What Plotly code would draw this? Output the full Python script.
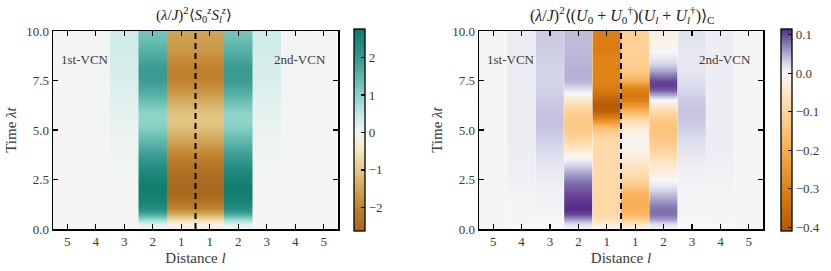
import numpy as np
import plotly.graph_objects as go

# ---------------- data ----------------
TIME = list(np.arange(0, 10.0001, 0.25))
DIST_LABELS = ["5", "4", "3", "2", "1", "1", "2", "3", "4", "5"]

# left panel: (lambda/J)^2 <S0z Slz>, distance l (mirror symmetric)
SZ_L1 = [0.0, -0.15, -0.7, -1.4, -1.9, -2.2, -2.4, -2.5, -2.55, -2.55, -2.5,
         -2.45, -2.35, -2.25, -2.1, -1.95, -1.8, -1.65, -1.5, -1.35, -1.2,
         -1.1, -1.05, -1.05, -1.15, -1.3, -1.45, -1.6, -1.75, -1.85, -1.95,
         -2.0, -2.0, -1.95, -1.9, -1.8, -1.7, -1.65, -1.6, -1.55, -1.5]
SZ_L2 = [0.0, 0.2, 0.9, 1.7, 2.2, 2.45, 2.55, 2.6, 2.65, 2.6, 2.55,
         2.45, 2.35, 2.2, 2.05, 1.9, 1.75, 1.6, 1.45, 1.3, 1.15,
         1.0, 0.95, 0.95, 1.05, 1.2, 1.4, 1.55, 1.7, 1.8, 1.9,
         1.95, 1.95, 1.9, 1.8, 1.7, 1.6, 1.5, 1.4, 1.3, 1.25]
SZ_L3 = [0.0, 0.0, -0.02, -0.03, -0.03, -0.03, -0.03, -0.02, -0.01, 0.0, 0.01,
         0.02, 0.03, 0.04, 0.05, 0.06, 0.07, 0.08, 0.09, 0.1, 0.11,
         0.12, 0.13, 0.14, 0.15, 0.17, 0.19, 0.21, 0.23, 0.25, 0.27,
         0.29, 0.3, 0.31, 0.32, 0.33, 0.34, 0.35, 0.35, 0.36, 0.36]
SZ_L4 = [0.0, 0.0, 0.0, 0.0, 0.0, 0.0, 0.0, 0.0, 0.01, 0.01, 0.01,
         0.01, 0.01, 0.01, 0.01, 0.01, 0.01, 0.01, 0.01, 0.01, 0.02,
         0.02, 0.02, 0.02, 0.02, 0.02, 0.02, 0.02, 0.02, 0.02, 0.03,
         0.03, 0.03, 0.03, 0.03, 0.03, 0.03, 0.03, 0.03, 0.03, 0.03]
SZ_L5 = [0.0] * 41

# right panel: (lambda/J)^2 <(U0+U0^+)(Ul+Ul^+)>_C, columns left to right
U_L5 = [0.002] * 41
U_L4 = [0.0, 0.0, 0.002, 0.002, 0.002, 0.002, 0.002, 0.003, 0.004, 0.005, 0.006,
        0.006, 0.007, 0.007, 0.008, 0.008, 0.009, 0.009, 0.01, 0.01, 0.01,
        0.01, 0.01, 0.01, 0.01, 0.01, 0.01, 0.01, 0.01, 0.01, 0.01,
        0.01, 0.01, 0.01, 0.01, 0.01, 0.01, 0.01, 0.01, 0.01, 0.01]
U_L3 = [0.0, 0.0, 0.0, 0.002, 0.003, 0.004, 0.005, 0.006, 0.007, 0.008, 0.009,
        0.011, 0.013, 0.015, 0.018, 0.021, 0.024, 0.027, 0.03, 0.033, 0.035,
        0.037, 0.038, 0.038, 0.037, 0.035, 0.033, 0.031, 0.03, 0.029, 0.028,
        0.028, 0.028, 0.029, 0.03, 0.031, 0.032, 0.033, 0.033, 0.033, 0.033]
U_L2 = [0.0, 0.02, 0.06, 0.1, 0.112, 0.11, 0.105, 0.1, 0.092, 0.085, 0.075,
        0.06, 0.045, 0.028, 0.01, -0.01, -0.04, -0.07, -0.095, -0.11, -0.125,
        -0.13, -0.13, -0.12, -0.105, -0.08, -0.05, -0.015, 0.015, 0.035, 0.045,
        0.048, 0.048, 0.046, 0.045, 0.044, 0.043, 0.042, 0.042, 0.042, 0.042]
U_L1 = [0.0, -0.03, -0.07, -0.085, -0.09, -0.09, -0.09, -0.09, -0.09, -0.09, -0.085,
        -0.085, -0.085, -0.085, -0.085, -0.085, -0.085, -0.085, -0.09, -0.1, -0.13,
        -0.19, -0.27, -0.34, -0.39, -0.4, -0.38, -0.35, -0.32, -0.31, -0.3,
        -0.3, -0.3, -0.3, -0.3, -0.3, -0.31, -0.31, -0.31, -0.31, -0.31]
U_R1 = [0.0, -0.05, -0.12, -0.17, -0.19, -0.19, -0.19, -0.18, -0.15, -0.12, -0.1,
        -0.085, -0.07, -0.055, -0.04, -0.025, -0.015, -0.01, -0.01, -0.012, -0.03,
        -0.05, -0.08, -0.13, -0.19, -0.25, -0.31, -0.33, -0.31, -0.26, -0.2,
        -0.16, -0.13, -0.12, -0.115, -0.11, -0.11, -0.11, -0.11, -0.11, -0.11]
U_R2 = [0.0, 0.02, 0.06, 0.08, 0.08, 0.07, 0.055, 0.04, 0.025, 0.01, 0.0,
        -0.015, -0.03, -0.045, -0.06, -0.08, -0.1, -0.115, -0.125, -0.135, -0.14,
        -0.14, -0.13, -0.11, -0.08, -0.04, 0.0, 0.05, 0.09, 0.105, 0.1,
        0.08, 0.055, 0.035, 0.02, 0.01, 0.0, -0.01, -0.015, -0.02, -0.02]
U_R3 = [0.0, 0.0, 0.0, 0.001, 0.002, 0.002, 0.003, 0.003, 0.003, 0.004, 0.005,
        0.006, 0.007, 0.009, 0.011, 0.013, 0.016, 0.019, 0.022, 0.026, 0.029,
        0.032, 0.035, 0.036, 0.037, 0.035, 0.033, 0.03, 0.026, 0.023, 0.02,
        0.017, 0.015, 0.014, 0.014, 0.014, 0.014, 0.015, 0.016, 0.017, 0.018]
U_R4 = [0.0, 0.0, 0.002, 0.002, 0.003, 0.003, 0.003, 0.003, 0.003, 0.004, 0.004,
        0.005, 0.006, 0.006, 0.007, 0.007, 0.008, 0.008, 0.008, 0.008, 0.008,
        0.008, 0.008, 0.008, 0.008, 0.008, 0.008, 0.008, 0.008, 0.008, 0.008,
        0.008, 0.008, 0.008, 0.008, 0.008, 0.008, 0.008, 0.008, 0.008, 0.008]
U_R5 = [0.002] * 41

LEFT_COLUMNS = [SZ_L5, SZ_L4, SZ_L3, SZ_L2, SZ_L1, SZ_L1, SZ_L2, SZ_L3, SZ_L4, SZ_L5]
RIGHT_COLUMNS = [U_L5, U_L4, U_L3, U_L2, U_L1, U_R1, U_R2, U_R3, U_R4, U_R5]

LEFT_RANGE = (-2.63, 2.76)
RIGHT_RANGE = (-0.41, 0.115)
LEFT_STOPS = [(-2.63, "#a5661e"), (-2.0, "#bf812d"), (-1.1, "#dfc27d"), (-0.45, "#f6e8c3"),
              (0.0, "#f5f5f5"), (0.45, "#c7eae5"), (1.1, "#80cdc1"), (2.0, "#35978f"),
              (2.76, "#0a7b6a")]
RIGHT_STOPS = [(-0.41, "#b35806"), (-0.3, "#e08214"), (-0.17, "#fdb863"), (-0.07, "#fee0b6"),
               (0.0, "#f7f7f7"), (0.025, "#d8daeb"), (0.05, "#b2abd2"), (0.08, "#8073ac"),
               (0.115, "#542788")]


def scale(stops, rng):
    lo, hi = rng
    return [[(v - lo) / (hi - lo), c] for v, c in stops]


FONT = "Liberation Serif"
TXT = "#3a3a3a"
W, H = 831, 271

fig = go.Figure()
for panel, cols, cax in [(1, LEFT_COLUMNS, "coloraxis"), (2, RIGHT_COLUMNS, "coloraxis2")]:
    for i, col in enumerate(cols):
        fig.add_trace(go.Heatmap(
            x=[i - 0.25, i + 0.25], y=TIME, z=[[v, v] for v in col],
            zsmooth="best", coloraxis=cax, hoverinfo="skip",
            xaxis="x" if panel == 1 else "x2", yaxis="y" if panel == 1 else "y2"))


def px_x(p):
    return p / W


def px_y(p):
    return 1 - p / H


tickfont = dict(family=FONT, size=13, color=TXT)
titlefont = dict(family=FONT, size=15, color=TXT)


def xaxis(dom, anchor):
    return dict(domain=dom, anchor=anchor, range=[-0.5, 9.5], tickvals=list(range(10)),
                ticktext=DIST_LABELS, ticks="inside", ticklen=5, tickwidth=1.2,
                tickcolor="black", showline=True, linecolor="black", linewidth=1.5,
                mirror="ticks", showgrid=False, zeroline=False, tickfont=tickfont,
                automargin=False,
                title=dict(text="Distance <i>l</i>", font=titlefont, standoff=4))


def yaxis(anchor):
    return dict(domain=[px_y(229), px_y(31)], anchor=anchor, range=[0, 10],
                tickvals=[0, 2.5, 5, 7.5, 10], ticktext=["0.0", "2.5", "5.0", "7.5", "10.0"],
                ticks="inside", ticklen=5, tickwidth=1.2, tickcolor="black", showline=True,
                linecolor="black", linewidth=1.5, mirror="ticks", showgrid=False,
                zeroline=False, tickfont=tickfont, automargin=False,
                title=dict(text="Time <i>λt</i>", font=titlefont, standoff=6))


def cbar(xpx, tv, tt):
    return dict(x=px_x(xpx), xanchor="left", xref="paper", y=px_y(130), yanchor="middle",
                thickness=11, thicknessmode="pixels", len=202, lenmode="pixels",
                outlinewidth=1.3, outlinecolor="black", ticks="inside", ticklen=4,
                tickcolor="black", tickwidth=1.2, tickvals=tv, ticktext=tt,
                tickfont=tickfont, xpad=0, ypad=0)


fig.update_layout(
    template="none",
    width=W, height=H, margin=dict(l=0, r=0, t=0, b=0, autoexpand=False),
    paper_bgcolor="white", plot_bgcolor="white", showlegend=False,
    xaxis=xaxis([px_x(53), px_x(338)], "y"),
    yaxis=yaxis("x"),
    xaxis2=xaxis([px_x(479), px_x(763)], "y2"),
    yaxis2=yaxis("x2"),
    coloraxis=dict(colorscale=scale(LEFT_STOPS, LEFT_RANGE), cmin=LEFT_RANGE[0],
                   cmax=LEFT_RANGE[1],
                   colorbar=cbar(354, [-2, -1, 0, 1, 2], ["−2", "−1", "0", "1", "2"])),
    coloraxis2=dict(colorscale=scale(RIGHT_STOPS, RIGHT_RANGE), cmin=RIGHT_RANGE[0],
                    cmax=RIGHT_RANGE[1],
                    colorbar=cbar(781, [0.1, 0.0, -0.1, -0.2, -0.3, -0.4],
                                  ["0.1", "0.0", "−0.1", "−0.2", "−0.3", "−0.4"])),
)

for xr, yr in [("x", "y"), ("x2", "y2")]:
    fig.add_shape(type="line", xref=xr, yref=yr, x0=4.5, x1=4.5, y0=0, y1=10,
                  line=dict(color="black", width=2, dash="6px,4px"))
    fig.add_annotation(xref=xr, yref=yr, x=-0.3, y=8.55, text="1st-VCN", showarrow=False,
                       xanchor="left", yanchor="middle", font=dict(family=FONT, size=13, color=TXT))
    fig.add_annotation(xref=xr, yref=yr, x=9.15, y=8.55, text="2nd-VCN", showarrow=False,
                       xanchor="right", yanchor="middle", font=dict(family=FONT, size=13, color=TXT))

titles = [
    (194, 15, "(<i>λ</i>/<i>J</i>)<sup>2</sup>⟨<i>S</i><sub>0</sub><sup><i>z</i></sup>"
              "<i>S</i><sub><i>l</i></sub><sup><i>z</i></sup>⟩"),
    (622, 16, "(<i>λ</i>/<i>J</i>)<sup>2</sup>⟨(<i>U</i><sub>0</sub> + <i>U</i><sub>0</sub><sup>†</sup>)"
              "(<i>U</i><sub><i>l</i></sub> + <i>U</i><sub><i>l</i></sub><sup>†</sup>)⟩<sub>C</sub>"),
]
for xc, fs, t in titles:
    fig.add_annotation(xref="paper", yref="paper", x=px_x(xc), y=px_y(15), text=t,
                       showarrow=False, xanchor="center", yanchor="middle",
                       font=dict(family=FONT, size=fs, color="#222"))

fig.write_html("out.html", config={"displayModeBar": False, "staticPlot": True},
               post_script="document.body.style.margin='0';document.body.style.overflow='hidden';")
